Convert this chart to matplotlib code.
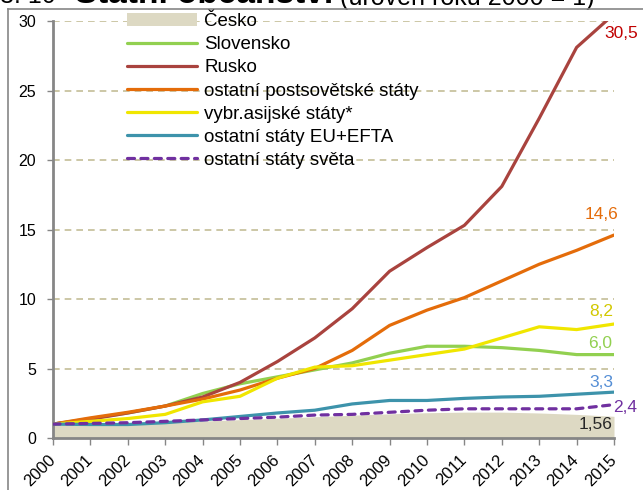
import matplotlib
matplotlib.use("Agg")
import matplotlib.pyplot as plt
from matplotlib.lines import Line2D
from matplotlib.patches import Patch

plt.rcParams["font.family"] = ["Liberation Sans", "DejaVu Sans"]

YEARS = list(range(2000, 2016))

CESKO = [1.00, 1.04, 1.08, 1.14, 1.22, 1.32, 1.42, 1.53, 1.64, 1.74, 1.82, 1.86, 1.86, 1.80, 1.70, 1.56]
SLOVENSKO = [1.0, 1.4, 1.8, 2.3, 3.2, 3.9, 4.4, 4.9, 5.4, 6.1, 6.6, 6.6, 6.5, 6.3, 6.0, 6.0]
RUSKO = [1.0, 1.35, 1.8, 2.3, 2.95, 4.0, 5.5, 7.2, 9.3, 12.0, 13.7, 15.3, 18.1, 23.0, 28.1, 30.5]
POSTSOV = [1.0, 1.45, 1.85, 2.3, 2.8, 3.45, 4.3, 5.0, 6.3, 8.1, 9.2, 10.1, 11.3, 12.5, 13.5, 14.6]
ASIJSKE = [1.0, 1.2, 1.4, 1.7, 2.6, 3.0, 4.3, 5.1, 5.2, 5.6, 6.0, 6.4, 7.2, 8.0, 7.8, 8.2]
EU_EFTA = [1.0, 0.97, 0.97, 1.1, 1.3, 1.55, 1.8, 2.0, 2.45, 2.7, 2.7, 2.85, 2.95, 3.0, 3.15, 3.3]
SVETA = [1.0, 1.05, 1.1, 1.2, 1.3, 1.4, 1.5, 1.65, 1.7, 1.85, 2.0, 2.1, 2.1, 2.1, 2.1, 2.4]

NAMES = ["Česko", "Slovensko", "Rusko", "ostatní postsovětské státy",
         "vybr.asijské státy*", "ostatní státy EU+EFTA", "ostatní státy světa"]
END_LABELS = ["1,56", "6,0", "30,5", "14,6", "8,2", "3,3", "2,4"]

C_AREA = "#DDD9C3"
C_LINES = ["#92D050", "#A9433E", "#E46C0A", "#F0E600", "#3D93AB", "#7030A0"]
C_LABELS = ["#262626", "#92D050", "#C00000", "#E46C0A", "#D2C800", "#558ED5", "#7030A0"]
GRAY = "#868686"

fig = plt.figure(figsize=(6.43, 4.90), dpi=100)
ax = fig.add_axes([53 / 643, 52 / 490, 561 / 643, 417 / 490])

ax.fill_between(YEARS, 0, CESKO, color=C_AREA, lw=0, zorder=1)

series = [SLOVENSKO, RUSKO, POSTSOV, ASIJSKE, EU_EFTA]
for s, c in zip(series, C_LINES[:5]):
    ax.plot(YEARS, s, color=c, lw=2.3, solid_capstyle="round", zorder=3)
ax.plot(YEARS, SVETA, color=C_LINES[5], lw=2.3, dashes=(2.2, 2.0),
        dash_capstyle="round", zorder=3)

ax.set_xlim(2000, 2015)
ax.set_ylim(0, 30)
ax.set_xticks(YEARS)
ax.set_xticklabels([str(y) for y in YEARS], rotation=45, ha="right",
                   va="center", rotation_mode="anchor", fontsize=12)
ax.set_yticks(range(0, 31, 5))
ax.set_yticklabels([str(v) for v in range(0, 31, 5)], fontsize=11.5)
ax.tick_params(axis="x", length=5, width=1, color=GRAY, pad=9)
ax.tick_params(axis="y", length=4, width=1, color=GRAY, pad=8)
for side in ["top", "right"]:
    ax.spines[side].set_visible(False)
for side in ["left", "bottom"]:
    ax.spines[side].set_color(GRAY)
    ax.spines[side].set_linewidth(2)
ax.spines["bottom"].set_zorder(5)
ax.yaxis.grid(True, color="#C4BD97", lw=1.2, linestyle=(0, (4, 3)))
ax.set_axisbelow(True)

# end labels (pixel offsets converted to points)
ends = [CESKO[-1], SLOVENSKO[-1], RUSKO[-1], POSTSOV[-1], ASIJSKE[-1], EU_EFTA[-1], SVETA[-1]]
offs = [(-2, -8, "right"), (-2, 11, "right"), (24, -19, "right"), (4, 21, "right"),
        (-1, 13, "right"), (-1, 10, "right"), (-1, -3, "left")]
for v, txt, c, (dx, dy, ha) in zip(ends, END_LABELS, C_LABELS, offs):
    ax.annotate(txt, xy=(2015, v), xytext=(dx * 0.72, dy * 0.72),
                textcoords="offset points", ha=ha, va="center",
                color=c, fontsize=12.5, annotation_clip=False)

handles = [Patch(facecolor=C_AREA, edgecolor="none")]
for c in C_LINES[:5]:
    handles.append(Line2D([], [], color=c, lw=2.3, solid_capstyle="round"))
handles.append(Line2D([], [], color=C_LINES[5], lw=2.3, dashes=(2.2, 2.0),
                      dash_capstyle="round"))
fig.legend(handles, NAMES, loc="upper left", bbox_to_anchor=(127 / 643, 1 - 13 / 490),
           frameon=False, fontsize=13.5, handlelength=3.75, handletextpad=0.37,
           labelspacing=0.32, borderpad=0, borderaxespad=0, handleheight=0.7)

# outer frame
fig.add_artist(Line2D([8 / 643, 1], [1 - 9 / 490, 1 - 9 / 490], color=GRAY, lw=1.2))
fig.add_artist(Line2D([8 / 643, 8 / 643], [0, 1 - 9 / 490], color=GRAY, lw=1.2))

# title, mostly cut off at the top edge
TITLE_Y = 1 - 3 / 490
fig.text(0.0, TITLE_Y, "3. 10", fontsize=18, va="baseline")
t2 = fig.text(75 / 643, TITLE_Y, "Státní občanství", fontsize=24, va="baseline",
              fontweight="bold")
ax.annotate(" (úroveň roku 2000 = 1)", xy=(1, 0), xycoords=t2, va="bottom",
            fontsize=18, annotation_clip=False)

fig.savefig("out.png", dpi=100)
